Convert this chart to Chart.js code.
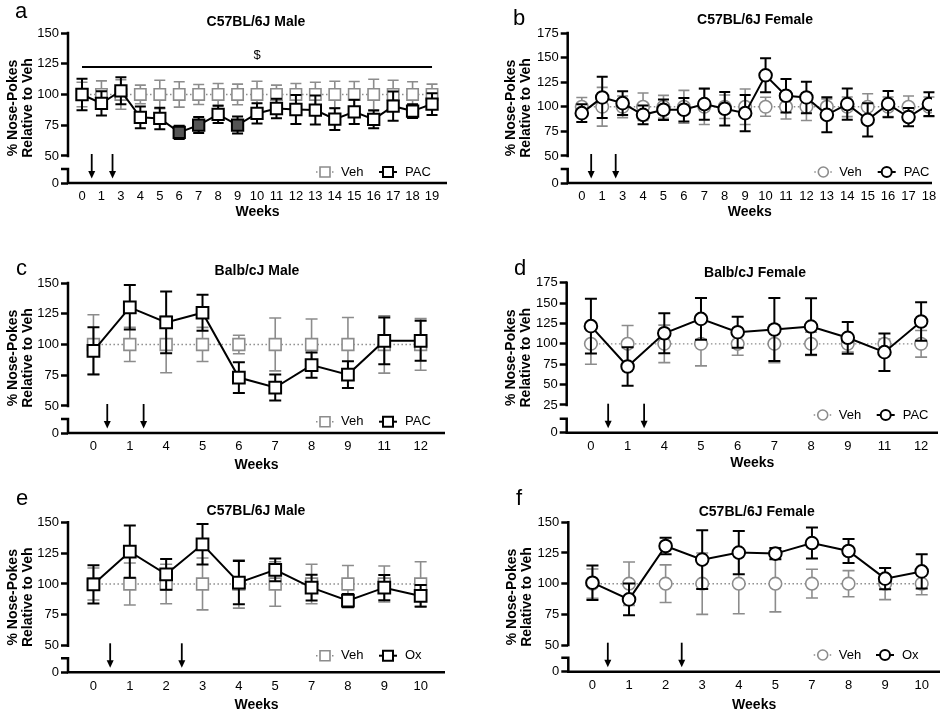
<!DOCTYPE html>
<html>
<head>
<meta charset="utf-8">
<script src="https://cdn.jsdelivr.net/npm/chart.js@4.4.1/dist/chart.umd.min.js"></script>
<style>
  body { margin: 0; background: #fff; }
  #wrap { position: relative; width: 949px; height: 715px; overflow: hidden; }
  #wrap canvas { position: absolute; }
</style>
</head>
<body>
<div id="wrap">
  <canvas id="chartA" style="left:0;top:0"></canvas>
  <canvas id="chartB" style="left:475px;top:0"></canvas>
  <canvas id="chartC" style="left:0;top:240px"></canvas>
  <canvas id="chartD" style="left:475px;top:240px"></canvas>
  <canvas id="chartE" style="left:0;top:475px"></canvas>
  <canvas id="chartF" style="left:475px;top:475px"></canvas>
</div>
<script>
const GRAY = '#8c8c8c';
const FONT = 'Arial, "Liberation Sans", Helvetica, sans-serif';
Chart.defaults.font.family = FONT;
Chart.defaults.color = '#000';

// a - C57BL/6J Male, PAC
const weeksA = ['0', '1', '3', '4', '5', '6', '7', '8', '9', '10', '11', '12', '13', '14', '15', '16', '17', '18', '19'];
const pacA = [100, 92.7, 103, 81.4, 80.5, 69.2, 75.1, 83.8, 75.1, 84.6, 88.6, 87.8, 87.3, 80, 85.9, 79.7, 90.5, 86.5, 92.2];
const pacSemA = [12.8, 9.9, 11, 8.9, 8.8, 5.4, 6.5, 7, 6.9, 8.2, 8, 11.8, 11.8, 8.8, 9.9, 7.2, 11.9, 5.6, 8.8];
const vehA = [100, 100, 100, 100, 100, 100, 100, 100, 100, 100, 100, 100, 100, 100, 100, 100, 100, 100, 100];
const vehSemA = [10, 11.1, 12, 7.6, 11.6, 10.3, 8.1, 8.9, 8.4, 10.8, 7.6, 8.9, 10, 10.8, 10.5, 12.4, 11.6, 10.3, 8.4];
const filledA = ['6', '7', '9'];
const arrowsA = [0.5, 1.57];

// b - C57BL/6J Female, PAC
const weeksB = ['0', '1', '3', '4', '5', '6', '7', '8', '9', '10', '11', '12', '13', '14', '15', '16', '17', '18'];
const pacB = [93.5, 109.5, 103.7, 91.8, 97, 97, 102.7, 98, 93.5, 132, 111.2, 109.5, 91.8, 102.7, 86.7, 102.7, 89.5, 102.7];
const pacSemB = [9, 21, 12, 9.5, 10.5, 12, 16, 17, 18.4, 17.3, 17, 16, 17.8, 16, 17, 13.4, 9.3, 12];
const vehB = [100, 100, 100, 100, 100, 100, 100, 100, 100, 100, 100, 100, 100, 100, 100, 100, 100, 100];
const vehSemB = [9.5, 19.7, 11, 14, 11.6, 16.7, 18, 12, 18, 9.7, 12.5, 14, 8, 10, 13.3, 10, 11, 10];
const arrowsB = [0.46, 1.66];

// c - Balb/cJ Male, PAC
const weeksC = ['0', '1', '4', '5', '6', '7', '8', '9', '11', '12'];
const pacC = [94.8, 130.2, 117.9, 125.8, 73.1, 65, 83.2, 75.5, 103, 103];
const pacSemC = [19.3, 18.1, 25.1, 14.6, 12.5, 10.5, 10.2, 10.9, 19, 16.3];
const vehC = [100, 100, 100, 100, 100, 100, 100, 100, 100, 100];
const vehSemC = [24.2, 13.9, 23, 13.9, 7.5, 21.5, 20.7, 22, 23.3, 21];
const arrowsC = [0.38, 1.38];

// d - Balb/cJ Female, PAC
const weeksD = ['0', '1', '4', '5', '6', '7', '8', '9', '11', '12'];
const pacD = [121.7, 72.2, 113, 130.6, 114.3, 117.6, 121.2, 107.4, 89.8, 127.4];
const pacSemD = [33.7, 23.5, 24.5, 25.7, 19, 38.7, 34.7, 19.5, 23, 23.5];
const vehD = [100, 100, 100, 100, 100, 100, 100, 100, 100, 100];
const vehSemD = [25, 22.5, 23, 27, 14, 23, 14.3, 10, 6, 16.3];
const arrowsD = [0.47, 1.45];

// e - C57BL/6J Male, Ox
const weeksE = ['0', '1', '2', '3', '4', '5', '7', '8', '9', '10'];
const oxE = [99.7, 126.2, 107.8, 132.2, 101.1, 111.4, 97, 86.5, 97, 90.3];
const oxSemE = [15.5, 21.2, 12.5, 16.4, 17.6, 9.2, 10.4, 5.4, 10.2, 8.8];
const vehE = [100, 100, 100, 100, 100, 100, 100, 100, 100, 100];
const vehSemE = [13, 17, 16, 21, 19.6, 18, 16, 15, 14.6, 18];
const arrowsE = [0.46, 2.43];

// f - C57BL/6J Female, Ox
const weeksF = ['0', '1', '2', '3', '4', '5', '7', '8', '9', '10'];
const oxF = [100.8, 87.2, 130.7, 119.6, 125.3, 124.5, 133.1, 126.6, 104.1, 110];
const oxSemF = [14, 12.9, 6.8, 24, 17.7, 4.5, 12.6, 9.8, 8.7, 13.9];
const vehF = [100, 100, 100, 100, 100, 100, 100, 100, 100, 100];
const vehSemF = [12, 17.7, 15.3, 25, 24.5, 23, 11.7, 10.6, 13, 9];
const arrowsF = [0.42, 2.44];

const ticks150 = [50, 75, 100, 125, 150];
const ticks175 = [50, 75, 100, 125, 150, 175];
const ticks175d = [25, 50, 75, 100, 125, 150, 175];

function drawMarker(ctx, style, x, y, size, stroke, fill, lw) {
    ctx.save();
    ctx.lineWidth = lw;
    ctx.strokeStyle = stroke;
    ctx.fillStyle = fill;
    ctx.setLineDash([]);
    ctx.beginPath();
    if (style === 'rect') ctx.rect(x - size / 2, y - size / 2, size, size);
    else ctx.arc(x, y, size / 2, 0, Math.PI * 2);
    ctx.fill();
    ctx.stroke();
    ctx.restore();
}

function panelPlugin(p) {
    return {
        id: 'panel' + p.letter,
        beforeDatasetDraw(chart, args) {
            // error bars under each series
            const ds = chart.data.datasets[args.index];
            const xs = chart.scales.x, ys = chart.scales.y;
            const ctx = chart.ctx;
            ctx.save();
            ctx.strokeStyle = ds.borderColor;
            ctx.lineWidth = ds.errWidth;
            ds.data.forEach((pt, i) => {
                const px = xs.getPixelForValue(pt.x);
                const top = ys.getPixelForValue(pt.y + ds.errors[i]);
                const bot = ys.getPixelForValue(pt.y - ds.errors[i]);
                ctx.beginPath();
                ctx.moveTo(px, top); ctx.lineTo(px, bot);
                ctx.moveTo(px - p.cap / 2, top); ctx.lineTo(px + p.cap / 2, top);
                ctx.moveTo(px - p.cap / 2, bot); ctx.lineTo(px + p.cap / 2, bot);
                ctx.stroke();
            });
            ctx.restore();
        },
        afterDraw(chart) {
            const ctx = chart.ctx;
            const area = chart.chartArea;
            const xs = chart.scales.x, ys = chart.scales.y;
            ctx.save();
            ctx.strokeStyle = '#000';
            ctx.fillStyle = '#000';
            ctx.lineWidth = 2.5;

            // axes with the break
            const yBreak = ys.getPixelForValue(p.yTicks[0]);
            const lowTop = area.bottom - 14;
            ctx.beginPath();
            ctx.moveTo(area.left - 1.25, area.bottom); ctx.lineTo(area.right, area.bottom);
            ctx.moveTo(area.left, area.top - 1.25); ctx.lineTo(area.left, yBreak + 1.25);
            ctx.moveTo(area.left, lowTop - 1.25); ctx.lineTo(area.left, area.bottom);
            ctx.moveTo(area.left - 7, lowTop); ctx.lineTo(area.left + 1.25, lowTop);
            ctx.stroke();

            // treatment arrows
            ctx.lineWidth = 1.8;
            p.arrows.forEach(v => {
                const ax = xs.getPixelForValue(v);
                ctx.beginPath();
                ctx.moveTo(ax, area.bottom - 29); ctx.lineTo(ax, area.bottom - 10);
                ctx.stroke();
                ctx.beginPath();
                ctx.moveTo(ax - 3.5, area.bottom - 12);
                ctx.lineTo(ax + 3.5, area.bottom - 12);
                ctx.lineTo(ax, area.bottom - 4.5);
                ctx.closePath();
                ctx.fill();
            });

            // significance bar
            if (p.sig) {
                ctx.lineWidth = 2;
                const sy = ys.getPixelForValue(p.sig.y);
                ctx.beginPath();
                ctx.moveTo(xs.getPixelForValue(p.sig.from), sy);
                ctx.lineTo(xs.getPixelForValue(p.sig.to), sy);
                ctx.stroke();
                ctx.font = '13px ' + FONT;
                ctx.textAlign = 'center';
                ctx.textBaseline = 'middle';
                ctx.fillText(p.sig.text, xs.getPixelForValue(p.sig.at), ys.getPixelForValue(p.sig.textY));
            }

            // key
            const ly = p.key.y;
            ctx.font = '13px ' + FONT;
            ctx.textAlign = 'left';
            ctx.textBaseline = 'middle';
            ctx.lineWidth = 1.4;
            ctx.strokeStyle = GRAY;
            ctx.setLineDash([1.5, 2.5]);
            ctx.beginPath();
            ctx.moveTo(p.key.veh - 9, ly); ctx.lineTo(p.key.veh + 9, ly);
            ctx.stroke();
            ctx.setLineDash([]);
            drawMarker(ctx, p.marker, p.key.veh, ly, 10, GRAY, '#fff', 1.6);
            ctx.fillStyle = '#000';
            ctx.fillText('Veh', p.key.veh + 16, ly);
            ctx.strokeStyle = '#000';
            ctx.lineWidth = 2;
            ctx.beginPath();
            ctx.moveTo(p.key.drug - 9, ly); ctx.lineTo(p.key.drug + 9, ly);
            ctx.stroke();
            drawMarker(ctx, p.marker, p.key.drug, ly, 10, '#000', '#fff', 2);
            ctx.fillStyle = '#000';
            ctx.fillText(p.drugName, p.key.drug + 17, ly);

            // panel letter and title
            ctx.font = '22px ' + FONT;
            ctx.textBaseline = 'alphabetic';
            ctx.fillText(p.letter, p.letterPos[0], p.letterPos[1]);
            ctx.font = 'bold 14px ' + FONT;
            ctx.textAlign = 'center';
            ctx.textBaseline = 'middle';
            ctx.fillText(p.title, p.titlePos[0], p.titlePos[1]);
            ctx.restore();
        }
    };
}

function makePanel(p) {
    const el = document.getElementById(p.id);
    el.width = p.w;
    el.height = p.h;
    const xH = p.weeksY + 7.7 - p.area.b;
    const padBottom = p.h - p.area.b - xH;
    const pts = arr => arr.map((v, i) => ({ x: i, y: v }));
    const fills = p.weeks.map(w => (p.filled && p.filled.includes(w)) ? '#555' : '#fff');
    const yMax = p.yTicks[p.yTicks.length - 1];

    new Chart(el, {
        type: 'line',
        data: {
            datasets: [{
                label: p.drugName,
                data: pts(p.drug),
                errors: p.drugSem,
                errWidth: 2,
                borderColor: '#000',
                borderWidth: 2,
                tension: 0,
                pointStyle: p.marker,
                pointRadius: p.r,
                pointBorderWidth: 2,
                pointBorderColor: '#000',
                pointBackgroundColor: fills
            }, {
                label: 'Veh',
                data: pts(p.veh),
                errors: p.vehSem,
                errWidth: 1.6,
                borderColor: GRAY,
                borderWidth: 1.4,
                borderDash: [1.5, 2.5],
                tension: 0,
                pointStyle: p.marker,
                pointRadius: p.r,
                pointBorderWidth: 1.6,
                pointBorderColor: GRAY,
                pointBackgroundColor: '#fff'
            }]
        },
        options: {
            responsive: false,
            animation: false,
            events: [],
            layout: { padding: { left: p.padLeft, top: p.area.t, right: p.w - p.area.r, bottom: padBottom } },
            plugins: { legend: { display: false }, tooltip: { enabled: false } },
            scales: {
                x: {
                    type: 'linear',
                    min: p.xMin,
                    max: p.xMax,
                    grid: { display: false, drawTicks: false },
                    border: { display: false },
                    afterBuildTicks: s => { s.ticks = p.weeks.map((w, i) => ({ value: i })); },
                    afterFit: s => { s.height = xH; },
                    ticks: {
                        autoSkip: false, maxRotation: 0, minRotation: 0, padding: 6,
                        color: '#000', font: { size: 13 },
                        callback: v => p.weeks[v]
                    },
                    title: { display: true, text: 'Weeks', color: '#000', padding: 0,
                        font: { size: 14, weight: 'bold', lineHeight: 1.1 } }
                },
                y: {
                    min: p.yZero,
                    max: yMax,
                    grid: { display: true, drawOnChartArea: false, drawTicks: true, tickLength: 7,
                        tickWidth: 2.5, tickColor: '#000' },
                    border: { display: false },
                    afterBuildTicks: s => { s.ticks = [p.yZero].concat(p.yTicks).map(v => ({ value: v })); },
                    afterFit: s => { s.width = p.area.l - p.padLeft; },
                    ticks: {
                        autoSkip: false, padding: 2, color: '#000', font: { size: 13 },
                        callback: v => v === p.yZero ? '0' : String(v)
                    },
                    title: { display: true, text: ['% Nose-Pokes', 'Relative to Veh'], color: '#000', padding: 0,
                        font: { size: 14, weight: 'bold', lineHeight: 1.1 } }
                }
            }
        },
        plugins: [panelPlugin(p)]
    });
}

makePanel({
    id: 'chartA', letter: 'a', title: 'C57BL/6J Male', drugName: 'PAC', marker: 'rect', r: 8, cap: 11,
    w: 475, h: 235, area: { l: 68, t: 33, r: 447, b: 183 }, padLeft: 5.3, weeksY: 212,
    xMin: -0.72, xMax: 18.77, yZero: 28, yTicks: ticks150,
    weeks: weeksA, drug: pacA, drugSem: pacSemA, veh: vehA, vehSem: vehSemA, filled: filledA, arrows: arrowsA,
    sig: { from: 0, to: 18, y: 122.4, at: 9, textY: 132, text: '$' },
    key: { y: 172, veh: 325, drug: 388 }, letterPos: [15, 18], titlePos: [256, 22]
});
makePanel({
    id: 'chartB', letter: 'b', title: 'C57BL/6J Female', drugName: 'PAC', marker: 'circle', r: 6.3, cap: 11,
    w: 474, h: 235, area: { l: 92.7, t: 33, r: 457, b: 183 }, padLeft: 28.5, weeksY: 212,
    xMin: -0.69, xMax: 17.15, yZero: 22.5, yTicks: ticks175,
    weeks: weeksB, drug: pacB, drugSem: pacSemB, veh: vehB, vehSem: vehSemB, arrows: arrowsB,
    key: { y: 172, veh: 348.3, drug: 411.7 }, letterPos: [38, 25], titlePos: [280, 20]
});
makePanel({
    id: 'chartC', letter: 'c', title: 'Balb/cJ Male', drugName: 'PAC', marker: 'rect', r: 8.3, cap: 12,
    w: 475, h: 235, area: { l: 68, t: 43, r: 445, b: 193 }, padLeft: 5.3, weeksY: 225,
    xMin: -0.7, xMax: 9.67, yZero: 28, yTicks: ticks150,
    weeks: weeksC, drug: pacC, drugSem: pacSemC, veh: vehC, vehSem: vehSemC, arrows: arrowsC,
    key: { y: 181.7, veh: 325, drug: 388 }, letterPos: [16, 35], titlePos: [257, 31]
});
makePanel({
    id: 'chartD', letter: 'd', title: 'Balb/cJ Female', drugName: 'PAC', marker: 'circle', r: 6.3, cap: 12,
    w: 474, h: 235, area: { l: 91.7, t: 42.7, r: 463, b: 192.7 }, padLeft: 28.5, weeksY: 222.7,
    xMin: -0.66, xMax: 9.46, yZero: -9, yTicks: ticks175d,
    weeks: weeksD, drug: pacD, drugSem: pacSemD, veh: vehD, vehSem: vehSemD, arrows: arrowsD,
    key: { y: 175, veh: 347.7, drug: 410.7 }, letterPos: [39, 35], titlePos: [280, 32.7]
});
makePanel({
    id: 'chartE', letter: 'e', title: 'C57BL/6J Male', drugName: 'Ox', marker: 'rect', r: 8.3, cap: 12,
    w: 475, h: 240, area: { l: 68, t: 47.3, r: 445, b: 197.3 }, padLeft: 5.3, weeksY: 230,
    xMin: -0.7, xMax: 9.67, yZero: 28.4, yTicks: ticks150,
    weeks: weeksE, drug: oxE, drugSem: oxSemE, veh: vehE, vehSem: vehSemE, arrows: arrowsE,
    key: { y: 180.7, veh: 325, drug: 388 }, letterPos: [16, 30], titlePos: [256, 35.7]
});
makePanel({
    id: 'chartF', letter: 'f', title: 'C57BL/6J Female', drugName: 'Ox', marker: 'circle', r: 6.3, cap: 12,
    w: 474, h: 240, area: { l: 93.3, t: 47.3, r: 465, b: 196.7 }, padLeft: 29, weeksY: 230,
    xMin: -0.66, xMax: 9.5, yZero: 28.3, yTicks: ticks150,
    weeks: weeksF, drug: oxF, drugSem: oxSemF, veh: vehF, vehSem: vehSemF, arrows: arrowsF,
    key: { y: 180, veh: 347.7, drug: 410 }, letterPos: [41, 30], titlePos: [281.7, 37.3]
});
</script>
</body>
</html>
